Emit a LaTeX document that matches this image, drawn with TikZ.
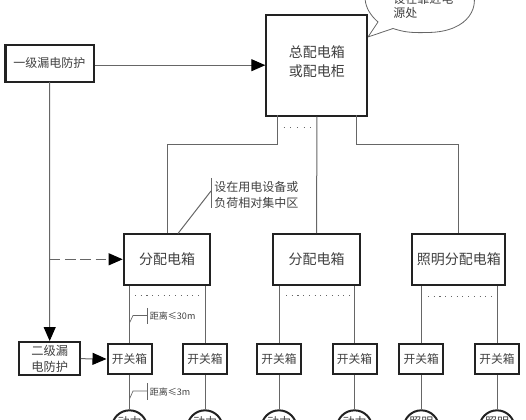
\documentclass[tikz,border=0pt]{standalone}
\usepackage{fontspec}
\newfontfamily\cjk{Noto Sans CJK SC}
\usetikzlibrary{arrows.meta}
\definecolor{ink}{HTML}{222222}
\definecolor{wire}{HTML}{666666}
\definecolor{txt}{HTML}{404040}
\tikzset{
  x=0.75pt,y=-0.75pt,
  every node/.style={font=\cjk\fontsize{10.5pt}{14pt}\selectfont,text=txt,align=center,inner sep=0pt},
  heavy/.style={draw=ink,line width=1.5pt,fill=white},
  wireline/.style={draw=wire,line width=0.75pt},
  headtip/.style={-{Triangle[length=10.5pt,width=9pt,fill=black,color=black]}},
  arrowline/.style={wireline,headtip},
  dotrow/.style={draw=wire,line width=0.7pt,dash pattern=on 0.8pt off 3.5pt},
  note/.style={font=\cjk\fontsize{9pt}{11pt}\selectfont,align=left},
  small/.style={font=\cjk\fontsize{6.8pt}{8pt}\selectfont},
  load/.style={heavy,circle,minimum size=26.5pt},
}
\begin{document}
\begin{tikzpicture}
\useasboundingbox (0,0) rectangle (526,420);
\clip (0,0) rectangle (526,420);

% callout
\filldraw[draw=wire,line width=0.6pt,fill=white] (368,37) -- (378,22)
  .. controls (362,8) and (362,-8) .. (372,-20)
  .. controls (400,-40) and (450,-40) .. (470,-15)
  .. controls (482,5) and (470,32) .. (428,32.5)
  .. controls (410,33) and (404,32) .. (393,28.5) -- cycle;
\node[note,anchor=west] (calltext1) at (393,-1) {设在靠近电};
\node[note,anchor=west] (calltext2) at (393,13) {源处};

% boxes
\node[heavy,minimum width=66pt,minimum height=28pt,font=\cjk\fontsize{9pt}{11pt}\selectfont] (lv1) at (49.5,63.25) {一级漏电防护};
\node[heavy,minimum width=75.75pt,minimum height=75.75pt] (main) at (316.8,65.2) {};
\node[font=\cjk\fontsize{10.5pt}{14.25pt}\selectfont] (maintext) at (316.8,61.5) {总配电箱\\或配电柜};
\node[heavy,minimum width=65pt,minimum height=37.9pt] (dA) at (167,259.3) {分配电箱};
\node[heavy,minimum width=65pt,minimum height=37.9pt] (dB) at (316.7,259.3) {分配电箱};
\node[heavy,minimum width=69.75pt,minimum height=37.9pt] (dC) at (458.8,259.3) {照明分配电箱};
\node[heavy,minimum width=45.4pt,minimum height=25pt,font=\cjk\fontsize{9.2pt}{11.5pt}\selectfont] (lv2) at (49.7,358.7) {二级漏\\电防护};

\foreach \n/\x in {sa/129.5,sb/205,sc/279,sd/354.5,se/421.3,sf/497}
  \node[heavy,minimum width=33pt,minimum height=22.5pt,font=\cjk\fontsize{8.8pt}{10pt}\selectfont] (\n) at (\x,359) {开关箱};

% wires from the main box
\coordinate (mA) at (277.7,115);
\coordinate (mC) at (356.3,115);
\draw[wireline] (mA) -- (277.7,145) -- (167,145) -- (dA.north);
\draw[wireline] (main.south) -- (dB.north);
\draw[wireline] (mC) -- (356.3,145) -- (458.8,145) -- (dC.north);
\draw[dotrow,dash pattern=on 0.8pt off 4.2pt] (283.5,127.5) -- (312,127.5);

% protection
\draw[arrowline] (lv1.east |- main.west) -- (main.west);
\coordinate (lv1foot) at (49.5,82);
\draw[arrowline] (lv1foot) -- (lv2.north);
\coordinate (tap) at (49.5,259.3);
\draw[wireline,headtip,dash pattern=on 8pt off 3.5pt] (tap) -- (dA.west);
\draw[arrowline] (lv2.east) -- (sa.west);

% note beside the branch
\coordinate (noteTop) at (211,178);
\coordinate (noteBot) at (211,208);
\coordinate (noteMid) at (211,191);
\coordinate (noteFoot) at (178,233.5);
\draw[wireline] (noteTop) -- (noteBot);
\draw[wireline] (noteFoot) -- (noteMid);
\node[note,anchor=west] (n1) at (214,187) {设在用电设备或};
\node[note,anchor=west] (n2) at (214,202.5) {负荷相对集中区};

% sub-distribution to switch boxes
\foreach \d/\a/\b in {dA/sa/sb,dB/sc/sd,dC/se/sf}{
  \draw[wireline] (\a.north) -- (\a.north |- \d.south);
  \draw[wireline] (\b.north) -- (\b.north |- \d.south);
}
\draw[dotrow] (135,295.5) -- (199,295.5);
\draw[dotrow] (286,295.5) -- (351,295.5);
\draw[dotrow] (428,296) -- (493,296);

% distance marks
\draw[wireline,line width=0.5pt] (129.5,323) -- (133,315.5) -- (147.5,315.5);
\draw[wireline,line width=0.5pt] (147.5,308) -- (147.5,324);
\node[small,anchor=west] (d1) at (149.5,316) {距离≤30m};
\draw[wireline,line width=0.5pt] (129.5,399) -- (133,391) -- (147,391);
\draw[wireline,line width=0.5pt] (147,383.5) -- (147,400);
\node[small,anchor=west] (d2) at (149.5,392) {距离≤3m};

% loads
\foreach \n/\s/\x/\t in {la/sa/129.5/动力,lb/sb/205/动力,lc/sc/279/动力,ld/sd/354.5/动力,le/se/421.3/照明,lf/sf/497/照明}{
  \node[load] (\n) at (\x,428) {};
  \node[font=\cjk\fontsize{9pt}{11pt}\selectfont,anchor=north] (\n t) at (\x,416.5) {\t};
  \draw[wireline] (\s.south) -- (\n.north);
}
\end{tikzpicture}
\end{document}
